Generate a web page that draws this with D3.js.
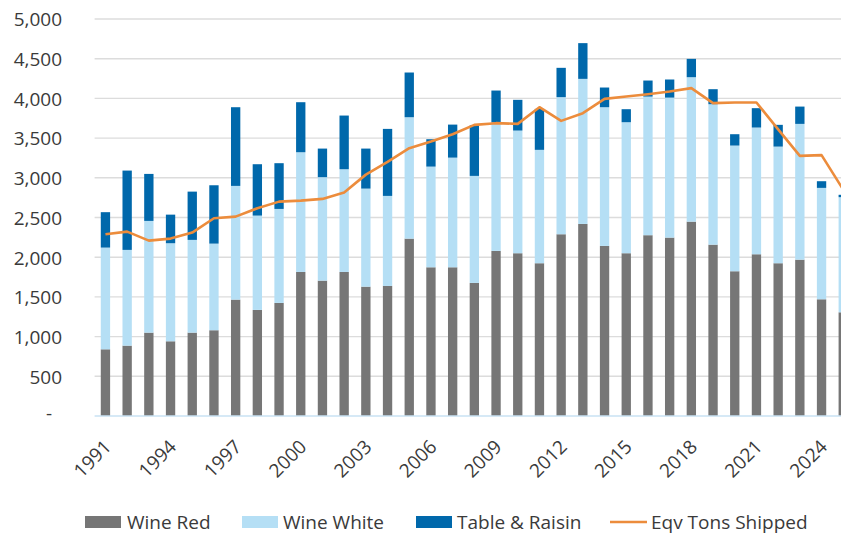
<!DOCTYPE html>
<html>
<head>
<meta charset="utf-8">
<script src="https://cdn.jsdelivr.net/npm/d3@7"></script>
<style>
  html, body { margin: 0; padding: 0; background: #fff; }
  svg { display: block; font-family: "Open Sans", "Noto Sans", sans-serif; }
</style>
</head>
<body>
<svg id="chart" width="841" height="535"></svg>
<script>
// Harvest by grape type (thousand tons) and equivalent tons shipped
const years = d3.range(1991, 2026);
const wineRed = [840, 886, 1050, 941, 1050, 1080, 1466, 1336, 1424, 1814,
  1705, 1814, 1629, 1638, 2234, 1873, 1873, 1676, 2079, 2050,
  1924, 2289, 2419, 2142, 2050, 2277, 2247, 2448, 2158, 1823,
  2037, 1924, 1969, 1470, 1306];
const wineWhite = [1281, 1206, 1407, 1235, 1168, 1091, 1432, 1188, 1184, 1508,
  1303, 1294, 1235, 1134, 1529, 1268, 1381, 1348, 1617, 1545,
  1428, 1727, 1827, 1747, 1650, 1746, 1763, 1819, 1769, 1583,
  1596, 1469, 1710, 1403, 1450];
const tableRaisin = [446, 999, 592, 360, 608, 735, 991, 647, 576, 630,
  360, 676, 504, 844, 563, 345, 416, 636, 403, 387,
  516, 369, 450, 248, 164, 202, 228, 231, 189, 143,
  244, 274, 218, 84, 30];
const eqvTonsShipped = [2289, 2322, 2209, 2234, 2310, 2491, 2511, 2617, 2700, 2713,
  2734, 2814, 3040, 3200, 3373, 3456, 3549, 3667, 3688, 3679,
  3889, 3717, 3814, 3994, 4023, 4053, 4087, 4129, 3940, 3948,
  3948, 3610, 3276, 3285, 2850];
const yTicks = [0, 500, 1000, 1500, 2000, 2500, 3000, 3500, 4000, 4500, 5000];
const xLabelYears = [1991, 1994, 1997, 2000, 2003, 2006, 2009, 2012, 2015, 2018, 2021, 2024];
const seriesKeys = ["Wine Red", "Wine White", "Table & Raisin"];
const seriesColors = ["#767676", "#b5dff5", "#0068ab"];
const lineName = "Eqv Tons Shipped";
const lineColor = "#ec8c3c";

const rows = years.map((yr, i) => ({
  year: yr,
  "Wine Red": wineRed[i],
  "Wine White": wineWhite[i],
  "Table & Raisin": tableRaisin[i],
  shipped: eqvTonsShipped[i]
}));

const svg = d3.select("#chart");
const left = 94.6, step = 21.7;
const x = d3.scaleBand()
  .domain(years)
  .range([left, left + step * years.length])
  .paddingInner(0.57)
  .paddingOuter(0.285);
const y = d3.scaleLinear().domain([0, 5000]).range([416, 19]);

const textColor = "#3a3a3a";

// gridlines
svg.append("g")
  .selectAll("line")
  .data(yTicks.filter(d => d > 0))
  .join("line")
  .attr("x1", left).attr("x2", 841)
  .attr("y1", d => y(d)).attr("y2", d => y(d))
  .attr("stroke", "#dcdcdc").attr("stroke-width", 1.4);

// stacked bars
const stack = d3.stack().keys(seriesKeys)(rows);
svg.append("g")
  .selectAll("g")
  .data(stack)
  .join("g")
  .attr("fill", (d, i) => seriesColors[i])
  .selectAll("rect")
  .data(d => d)
  .join("rect")
  .attr("x", d => x(d.data.year))
  .attr("width", x.bandwidth())
  .attr("y", d => y(d[1]))
  .attr("height", d => y(d[0]) - y(d[1]));

// baseline
svg.append("line")
  .attr("x1", left).attr("x2", 841)
  .attr("y1", y(0)).attr("y2", y(0))
  .attr("stroke", "#c9e2f3").attr("stroke-width", 1.4);

// shipped line
const line = d3.line()
  .x(d => x(d.year) + x.bandwidth() / 2)
  .y(d => y(d.shipped));
svg.append("path")
  .datum(rows)
  .attr("fill", "none")
  .attr("stroke", lineColor)
  .attr("stroke-width", 2.6)
  .attr("stroke-linejoin", "round")
  .attr("d", line);

// y axis
const yAxis = svg.append("g")
  .attr("transform", "translate(62,0)")
  .call(d3.axisLeft(y).tickValues(yTicks).tickSize(0).tickPadding(0)
    .tickFormat(d => d === 0 ? "-" : d3.format(",")(d)));
yAxis.select(".domain").remove();
yAxis.selectAll("text")
  .attr("fill", textColor)
  .style("font-size", "19px")
  .style("font-family", "'Open Sans', sans-serif")
  .attr("dy", "0.36em");
yAxis.selectAll(".tick").filter(d => d === 0).select("text")
  .attr("x", -10).attr("dy", "0.2em");

// x axis labels
const xAxis = svg.append("g")
  .attr("transform", `translate(0,${y(0)})`)
  .call(d3.axisBottom(x).tickValues(xLabelYears).tickSize(0).tickPadding(0));
xAxis.select(".domain").remove();
xAxis.selectAll("text")
  .attr("fill", textColor)
  .style("font-size", "19px")
  .style("font-family", "'Open Sans', sans-serif")
  .attr("text-anchor", "end")
  .attr("dy", 0)
  .attr("y", 0)
  .attr("transform", "translate(7,32) rotate(-45)");

// legend
const legend = svg.append("g").style("font-size", "19px").attr("fill", textColor);
const swatchX = [85, 242, 416];
const labelX = [127, 283, 457];
seriesKeys.forEach((k, i) => {
  legend.append("rect")
    .attr("x", swatchX[i]).attr("y", 516).attr("width", 36).attr("height", 12)
    .attr("fill", seriesColors[i]);
  legend.append("text")
    .attr("x", labelX[i]).attr("y", 529)
    .text(k);
});
legend.append("line")
  .attr("x1", 610).attr("x2", 647).attr("y1", 522).attr("y2", 522)
  .attr("stroke", lineColor).attr("stroke-width", 2.6);
legend.append("text")
  .attr("x", 651).attr("y", 529)
  .text(lineName);
</script>
</body>
</html>
